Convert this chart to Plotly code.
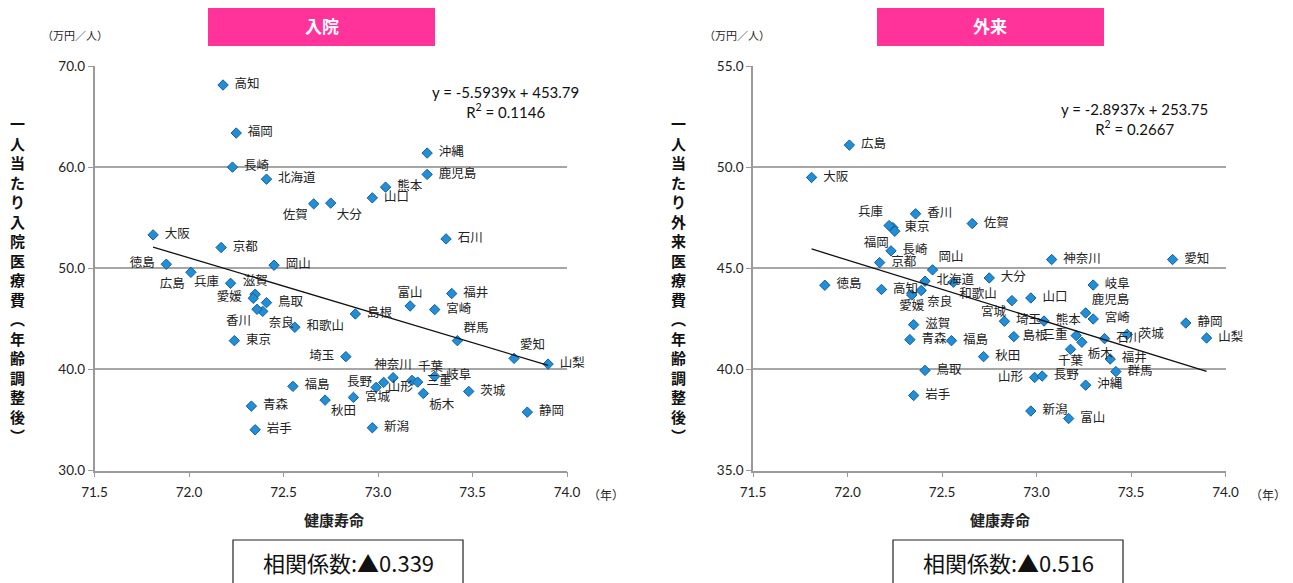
import plotly.graph_objects as go

# ---------------- data ----------------
prefs = ["北海道", "青森", "岩手", "宮城", "秋田", "山形", "福島", "茨城", "栃木", "群馬",
         "埼玉", "千葉", "東京", "神奈川", "新潟", "富山", "石川", "福井", "山梨", "長野",
         "岐阜", "静岡", "愛知", "三重", "滋賀", "京都", "大阪", "兵庫", "奈良", "和歌山",
         "鳥取", "島根", "岡山", "広島", "山口", "徳島", "香川", "愛媛", "高知", "福岡",
         "佐賀", "長崎", "熊本", "大分", "宮崎", "鹿児島", "沖縄"]

health_life = [72.41, 72.33, 72.35, 72.87, 72.72, 72.99, 72.55, 73.48, 73.24, 73.42,
               72.83, 73.18, 72.24, 73.08, 72.97, 73.17, 73.36, 73.39, 73.90, 73.03,
               73.30, 73.79, 73.72, 73.21, 72.35, 72.17, 71.81, 72.22, 72.39, 72.56,
               72.41, 72.88, 72.45, 72.01, 72.97, 71.88, 72.36, 72.34, 72.18, 72.25,
               72.66, 72.23, 73.04, 72.75, 73.30, 73.26, 73.26]

inpatient = [58.81, 36.37, 34.03, 37.23, 36.96, 38.22, 38.32, 37.82, 37.62, 42.84,
             41.26, 38.91, 42.84, 39.18, 34.23, 46.27, 52.90, 47.50, 40.52, 38.71,
             39.31, 35.77, 41.09, 38.74, 47.43, 52.05, 53.30, 48.51, 45.74, 44.16,
             46.60, 45.48, 50.30, 49.60, 56.96, 50.40, 45.94, 47.03, 68.12, 63.37,
             56.37, 60.00, 58.02, 56.44, 45.91, 59.28, 61.39]

outpatient = [44.36, 41.47, 38.71, 43.40, 40.63, 39.60, 41.42, 41.73, 41.34, 39.89,
              42.38, 40.99, 47.01, 45.43, 37.94, 37.57, 41.52, 40.51, 41.55, 39.67,
              44.17, 42.29, 45.43, 41.67, 42.21, 45.28, 49.49, 47.11, 43.90, 44.31,
              39.95, 41.62, 44.92, 51.09, 43.53, 44.16, 47.69, 43.68, 43.95, 46.83,
              47.21, 45.86, 42.39, 44.52, 42.49, 42.79, 39.22]

x_ticks = [71.5, 72.0, 72.5, 73.0, 73.5, 74.0]
y_ticks_in = [30.0, 40.0, 50.0, 60.0, 70.0]
y_ticks_out = [35.0, 40.0, 45.0, 50.0, 55.0]

trend_in = (-5.5939, 453.79, 0.1146)
trend_out = (-2.8937, 253.75, 0.2667)
corr_in = "▲0.339"
corr_out = "▲0.516"

# ---------------- label placement (style) ----------------
left_pos = {"佐賀": "bottom left", "大分": "bottom right", "徳島": "middle left",
            "広島": "bottom left", "兵庫": "middle left", "滋賀": "top center",
            "愛媛": "middle left", "香川": "bottom left", "奈良": "bottom right",
            "埼玉": "middle left", "富山": "top center", "群馬": "top right",
            "愛知": "top right", "神奈川": "top center", "千葉": "top right",
            "長野": "middle left", "栃木": "bottom right", "秋田": "bottom right"}
right_pos = {"兵庫": "top left", "福岡": "bottom left", "岡山": "top right",
             "和歌山": "bottom right", "奈良": "bottom right", "愛媛": "bottom center",
             "宮城": "bottom left", "鹿児島": "top right", "三重": "middle left",
             "栃木": "bottom right", "千葉": "bottom center", "山形": "middle left"}
left_tight = {"三重"}
right_tight = {"島根", "三重"}

# page body has an 8px margin: the figure starts 8px in from the window corner
OFF = 8
W, H = 1293 - OFF, 583 - OFF
CJK = "Noto Sans CJK JP"
NUM = "Lato, Noto Sans CJK JP"
MARK = dict(symbol="diamond", size=8, color="#1E8FD8", line=dict(color="#1B5C94", width=1))
GAP = "\u00a0\u00a0"


def px_x(p):
    return (p - OFF) / W


def px_y(p):
    return 1 - (p - OFF) / H


def template(pos, tight):
    gap = "\u00a0" if tight else GAP
    if pos == "middle right":
        return gap + "%{text}"
    if pos == "middle left":
        return "%{text}" + gap
    return "%{text}"


fig = go.Figure()

panels = [
    dict(xa="x", ya="y", vals=inpatient, pos=left_pos, tight=left_tight, trend=trend_in,
         xdom=[px_x(94.5), px_x(567)], yr=[30, 70], yt=y_ticks_in),
    dict(xa="x2", ya="y2", vals=outpatient, pos=right_pos, tight=right_tight, trend=trend_out,
         xdom=[px_x(753), px_x(1225.5)], yr=[35, 55], yt=y_ticks_out),
]

for p in panels:
    positions = [p["pos"].get(n, "middle right") for n in prefs]
    fig.add_trace(go.Scatter(
        x=health_life, y=p["vals"], mode="markers+text", text=prefs,
        textposition=positions,
        texttemplate=[template(q, n in p["tight"]) for q, n in zip(positions, prefs)],
        textfont=dict(family=CJK, size=12.5, color="#222222"),
        marker=MARK, xaxis=p["xa"], yaxis=p["ya"], showlegend=False, cliponaxis=False))
    a, b, _ = p["trend"]
    xmin, xmax = min(health_life), max(health_life)
    fig.add_trace(go.Scatter(
        x=[xmin, xmax], y=[a * xmin + b, a * xmax + b], mode="lines",
        line=dict(color="#111111", width=1.3), xaxis=p["xa"], yaxis=p["ya"],
        showlegend=False, hoverinfo="skip"))

ydom = [px_y(470.5), px_y(66)]
axis_common = dict(showline=True, linecolor="#9A9A9A", linewidth=1.5, ticks="outside",
                   ticklen=5, tickcolor="#9A9A9A", tickwidth=1.2, automargin=False,
                   tickfont=dict(family=NUM, size=13.5, color="#222222"), zeroline=False)

fig.update_layout(
    width=W, height=H, margin=dict(l=0, r=0, t=0, b=0, pad=0, autoexpand=False),
    paper_bgcolor="white", plot_bgcolor="white",
    xaxis=dict(domain=panels[0]["xdom"], range=[71.5, 74.0], tickvals=x_ticks,
               ticktext=[f"{v:.1f}" for v in x_ticks], showgrid=False, anchor="y",
               ticklabelstandoff=4, **axis_common),
    yaxis=dict(domain=ydom, range=panels[0]["yr"], tickvals=panels[0]["yt"],
               ticktext=[f"{v:.1f}" for v in panels[0]["yt"]], showgrid=True,
               gridcolor="#A6A6A6", gridwidth=1.5, anchor="x", **axis_common),
    xaxis2=dict(domain=panels[1]["xdom"], range=[71.5, 74.0], tickvals=x_ticks,
                ticktext=[f"{v:.1f}" for v in x_ticks], showgrid=False, anchor="y2",
                ticklabelstandoff=4, **axis_common),
    yaxis2=dict(domain=ydom, range=panels[1]["yr"], tickvals=panels[1]["yt"],
                ticktext=[f"{v:.1f}" for v in panels[1]["yt"]], showgrid=True,
                gridcolor="#A6A6A6", gridwidth=1.5, anchor="x2", **axis_common),
)

ann = []
shapes = []


def note(x, y, text, size, color="#222222", family=CJK, **kw):
    ann.append(dict(x=px_x(x), y=px_y(y), xref="paper", yref="paper", text=text,
                    xanchor="center", yanchor="middle",
                    showarrow=False, font=dict(family=family, size=size, color=color), **kw))


vtitle_in = "一人当たり入院医療費︵年齢調整後︶"
vtitle_out = "一人当たり外来医療費︵年齢調整後︶"

for (box_l, box_r, title, unit_x, vt, vx, xt_x, year_x, eq_x, eq_y, trend,
     cb_l, cb_r, corr) in [
        (208, 435, "入院", 75, vtitle_in, 17, 334, 606, 505, 102, trend_in, 233, 463, corr_in),
        (877, 1104, "外来", 737, vtitle_out, 678, 1000, 1268, 1134, 119, trend_out, 893, 1123, corr_out)]:
    shapes.append(dict(type="rect", xref="paper", yref="paper", x0=px_x(box_l), x1=px_x(box_r),
                       y0=px_y(46), y1=px_y(6), fillcolor="#FF3399", line=dict(width=0),
                       layer="below"))
    note((box_l + box_r) / 2, 26, f"<b>{title}</b>", 17, color="white")
    note(unit_x, 35, "（万円／人）", 11)
    note(vx, 279, "<b>" + "<br>".join(vt) + "</b>", 15, color="#111111")
    note(xt_x, 519, "<b>健康寿命</b>", 15)
    note(year_x, 494, "（年）", 12)
    a, b, r2 = trend
    note(eq_x, eq_y, f"y = {a:.4f}x + {b:.2f}<br>R<sup>2</sup> = {r2:.4f}", 15,
         family=NUM, color="#111111")
    shapes.append(dict(type="rect", xref="paper", yref="paper", x0=px_x(cb_l), x1=px_x(cb_r),
                       y0=px_y(600), y1=px_y(540), fillcolor="rgba(0,0,0,0)",
                       line=dict(color="#222222", width=1.2)))
    note((cb_l + cb_r) / 2, 562, f"相関係数:{corr}", 22, color="#111111")

fig.update_layout(annotations=ann, shapes=shapes)
fig.write_html("out.html")
